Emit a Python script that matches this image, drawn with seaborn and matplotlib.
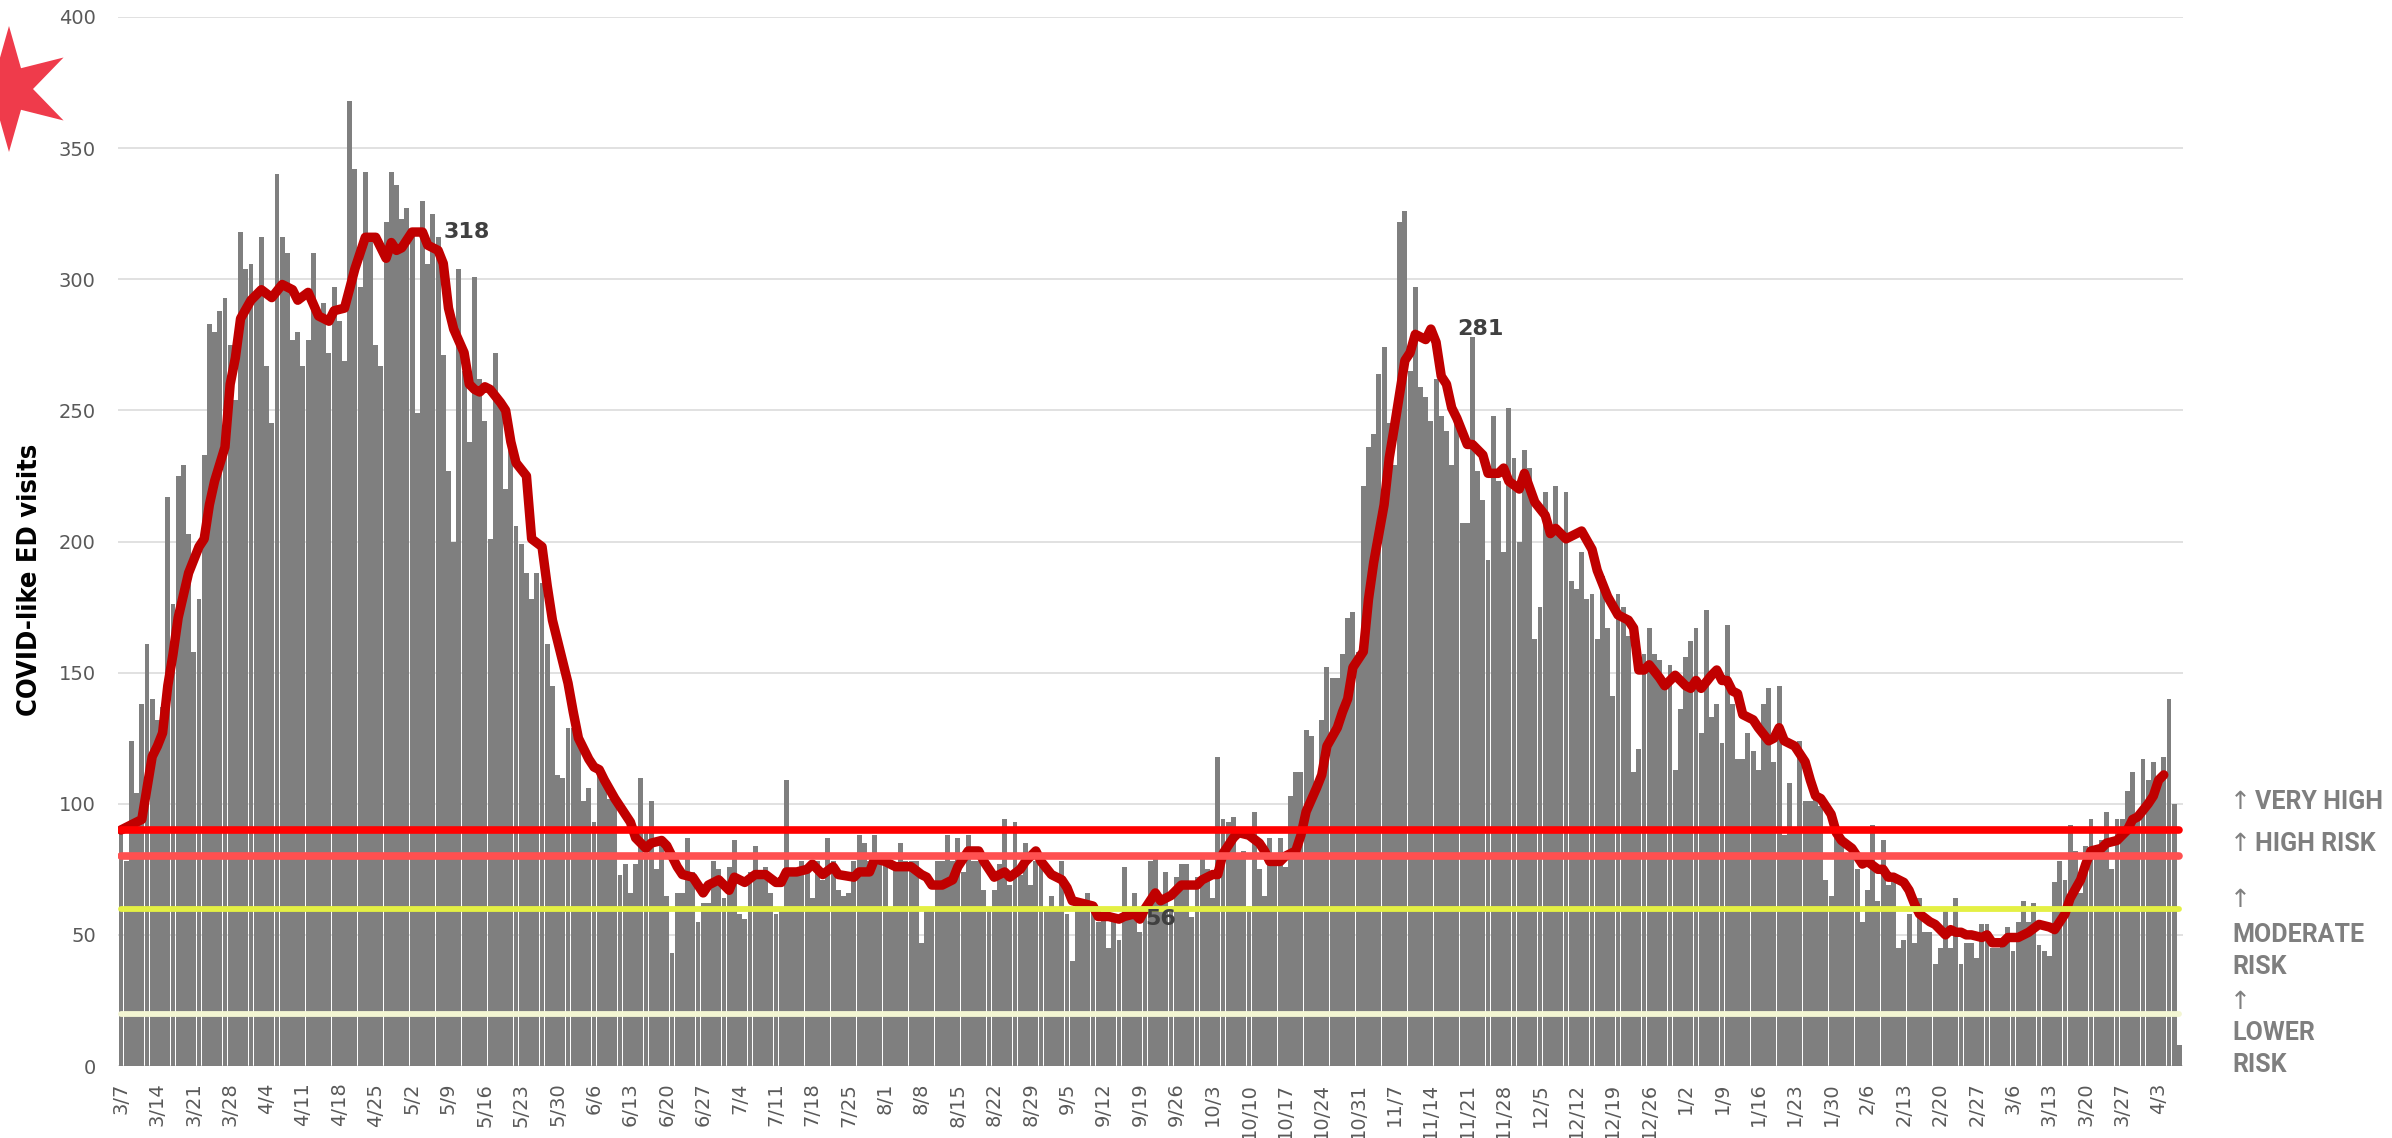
import logging

import matplotlib
matplotlib.use("Agg")
import matplotlib.pyplot as plt
from matplotlib import font_manager, transforms
from matplotlib.font_manager import FontProperties
from matplotlib.patches import Polygon
import numpy as np
import pandas as pd
import seaborn as sns

START_DATE = "2020-03-07"

# daily COVID-like ED visits, one value per day starting at START_DATE
visits = [
    89, 78, 124, 104, 138, 161, 140, 132, 137, 217, 176, 225, 229, 203, 158, 178, 233, 283, 280, 288,
    293, 275, 254, 318, 304, 306, 295, 316, 267, 245, 340, 316, 310, 277, 280, 267, 277, 310, 287, 291,
    272, 297, 284, 269, 368, 342, 297, 341, 316, 275,
    267, 322, 341, 336, 323, 327, 317, 249, 330, 306, 325, 316, 271, 227, 200, 304, 265, 238, 301, 262,
    246, 201, 272, 253, 220, 236, 206, 199, 188, 178, 188, 184, 161, 145, 111, 110, 129, 129, 128, 101,
    106, 93, 112, 111, 102, 101, 73, 77, 66, 77,
    110, 90, 101, 75, 87, 65, 43, 66, 66, 87, 74, 55, 62, 62, 78, 75, 64, 76, 86, 58,
    56, 74, 84, 74, 76, 66, 58, 59, 109, 74, 74, 78, 76, 64, 78, 71, 87, 78, 67, 65,
    66, 78, 88, 85, 78, 88, 80, 77, 60, 76,
    85, 78, 78, 78, 47, 60, 60, 78, 78, 88, 78, 87, 74, 88, 78, 78, 67, 59, 67, 77,
    94, 69, 93, 73, 85, 69, 78, 78, 60, 65, 60, 78, 58, 40, 63, 60, 66, 60, 55, 56,
    45, 55, 48, 76, 57, 66, 51, 59, 78, 81,
    64, 74, 61, 72, 77, 77, 57, 72, 81, 75, 64, 118, 94, 93, 95, 80, 82, 61, 97, 75,
    65, 87, 77, 87, 76, 103, 112, 112, 128, 126, 108, 132, 152, 148, 148, 157, 171, 173, 158, 221,
    236, 241, 264, 274, 245, 229, 322, 326, 265, 297,
    259, 255, 246, 262, 248, 242, 229, 246, 207, 207, 278, 227, 216, 193, 248, 223, 196, 251, 232, 200,
    235, 228, 163, 175, 219, 206, 221, 202, 219, 185, 182, 196, 178, 180, 163, 187, 167, 141, 180, 175,
    164, 112, 121, 157, 167, 157, 155, 145, 153, 113,
    136, 156, 162, 167, 127, 174, 133, 138, 123, 168, 138, 117, 117, 127, 120, 113, 138, 144, 116, 145,
    88, 108, 91, 124, 101, 101, 102, 99, 71, 65, 87, 87, 81, 80, 75, 55, 67, 92, 63, 86,
    69, 72, 45, 48, 58, 47, 64, 51, 51, 39,
    45, 59, 45, 64, 39, 47, 47, 41, 54, 54, 45, 45, 46, 53, 44, 55, 63, 55, 62, 46,
    44, 42, 70, 78, 71, 92, 82, 66, 84, 94, 84, 86, 97, 75, 94, 94, 105, 112, 94, 117,
    109, 116, 110, 118, 140, 100, 8,
]

# rolling average line (day offset from START_DATE, value)
avg_day = [
    0, 2, 4, 6, 7, 8, 9, 10, 11, 13, 15, 16, 17, 18, 20, 21, 22, 23, 25, 27,
    29, 31, 33, 34, 36, 38, 40, 41, 43, 45, 47, 49, 51, 52, 53, 54, 56, 58, 59, 61,
    62, 63, 64, 66, 67, 68, 69, 70, 71, 73, 74, 75, 76, 78, 79, 81, 82, 83, 85, 86,
    87, 88, 90, 91, 92, 93, 95, 96, 98, 99, 101, 102, 104, 105, 107, 108, 110, 112, 113, 115,
    117, 118, 120, 122, 124, 126, 127, 128, 130, 132, 133, 135, 137, 138, 141, 142, 144, 145, 147, 149,
    151, 152, 154, 155, 156, 158, 160, 161, 163, 165, 166, 168, 170, 171, 173, 174, 176, 177, 179, 181,
    182, 183, 185, 187, 188, 190, 192, 193, 195, 196, 197, 199, 200, 202, 204, 206, 207, 208, 210, 211,
    212, 214, 215, 217, 219, 220, 221, 223, 224, 226, 227, 228, 230, 231, 232, 234, 235, 236, 237, 239,
    240, 241, 243, 244, 245, 247, 248, 249, 251, 252, 253, 254, 255, 256, 257, 259, 260, 262, 263, 265,
    266, 267, 269, 270, 272, 274, 275, 276, 278, 279, 281, 283, 284, 286, 288, 290, 291, 292, 293, 294,
    296, 297, 299, 301, 302, 303, 304, 306, 307, 308, 309, 310, 311, 312, 314, 315, 317, 318, 319, 320,
    322, 324, 325, 326, 327, 329, 330, 331, 333, 334, 335, 336, 338, 339, 340, 341, 343, 344, 345, 346,
    348, 349, 351, 352, 353, 354, 355, 356, 358, 359, 360, 362, 363, 365, 367, 369, 371, 372, 373, 374,
    375, 377, 378, 379, 381, 382, 384, 385, 386, 387, 388, 390, 391, 392, 393,
]
avg_value = [
    90, 92, 94, 118, 122, 127, 145, 157, 171, 188, 198, 201, 214, 223, 236, 260, 270, 285, 292, 296,
    293, 298, 296, 292, 295, 286, 284, 288, 289, 304, 316, 316, 308, 314, 311, 312, 318, 318, 313, 311,
    306, 289, 281, 272, 260, 258, 257, 259, 258, 253, 250, 238, 230, 225, 201, 198, 183, 170, 154, 146,
    135, 125, 117, 114, 113, 109, 102, 99, 93, 87, 83, 85, 86, 84, 76, 73, 72, 66, 69, 71,
    67, 72, 70, 73, 73, 70, 70, 74, 74, 75, 77, 73, 76, 73, 72, 74, 74, 79, 78, 76,
    76, 76, 73, 72, 69, 69, 71, 76, 82, 82, 78, 72, 74, 72, 75, 78, 82, 78, 73, 71,
    68, 63, 62, 61, 57, 57, 56, 57, 58, 56, 60, 66, 63, 65, 69, 69, 69, 71, 73, 73,
    81, 87, 89, 88, 85, 82, 78, 78, 80, 82, 88, 97, 106, 111, 122, 129, 135, 140, 152, 158,
    178, 192, 214, 232, 244, 269, 272, 279, 277, 281, 276, 263, 260, 251, 247, 237, 237, 233, 226, 226,
    228, 223, 220, 226, 215, 210, 203, 205, 201, 202, 204, 197, 189, 179, 172, 170, 167, 151, 151, 153,
    148, 145, 149, 145, 144, 147, 144, 149, 151, 147, 147, 143, 142, 134, 132, 129, 124, 125, 129, 124,
    122, 116, 109, 103, 102, 96, 89, 86, 83, 80, 77, 78, 75, 75, 72, 72, 70, 67, 62, 58,
    55, 54, 50, 52, 51, 51, 50, 50, 49, 50, 47, 47, 49, 49, 51, 54, 53, 52, 55, 58,
    64, 71, 77, 82, 83, 85, 86, 88, 90, 94, 95, 100, 103, 109, 111,
]

# risk thresholds drawn as flat lines
risk_levels = [90, 80, 60, 20]

# labelled points of the rolling average
label_day = [57, 252, 192]
label_value = [318, 281, 56]

W, H = 2392, 1138


def ylabel_font() -> FontProperties:
    """Condensed bold face for the axis title, whatever is installed."""
    for f in font_manager.fontManager.ttflist:
        if f.name == "Liberation Sans Narrow" and f.weight in ("bold", 700):
            return FontProperties(fname=f.fname, size=23)
    for f in font_manager.fontManager.ttflist:
        if "DejaVuSansCondensed-Bold." in f.fname:
            return FontProperties(fname=f.fname, size=19.5)
    logging.info("no condensed face found, using DejaVu Sans Bold")
    return FontProperties(family="DejaVu Sans", weight="bold", size=17.5)


def draw_star(fig):
    """Chicago star in the top-left corner (pixel layout converted to figure coords)."""
    cx, cy, r_out, r_in = 9, 89, 63, 24
    pts = []
    for k in range(12):
        ang = np.deg2rad(90 - 30 * k)
        r = r_out if k % 2 == 0 else r_in
        pts.append(((cx + r * np.cos(ang)) / W, 1 - (cy - r * np.sin(ang)) / H))
    fig.patches.append(
        Polygon(pts, closed=True, transform=fig.transFigure, fc="#EF3B4B", ec="none")
    )


def main():
    logging.basicConfig(level=logging.INFO, format="%(levelname)s: %(message)s")
    sns.set_theme(style="white")
    plt.rcParams["font.family"] = ["DejaVu Sans"]

    n = len(visits)
    dates = pd.date_range(START_DATE, periods=n, freq="D")
    df = pd.DataFrame({"day": np.arange(n), "visits": visits})

    fig = plt.figure(figsize=(W / 100, H / 100), dpi=100)
    ax = fig.add_axes([118 / W, 1 - 1066 / H, 2065 / W, 1049 / H])

    # bars
    sns.barplot(
        data=df, x="day", y="visits", native_scale=True, color="#7F7F7F",
        saturation=1, width=0.94, linewidth=0, errorbar=None, ax=ax, zorder=2,
    )

    # rolling average
    sns.lineplot(
        x=avg_day, y=avg_value, color="#C00000", linewidth=6.8,
        solid_joinstyle="round", solid_capstyle="round", ax=ax, zorder=3,
    )

    # risk thresholds
    line_styles = {90: ("#FF0000", 5.5), 80: ("#FF5050", 5.5),
                   60: ("#E4F044", 4.2), 20: ("#F3F6D2", 4.2)}
    for level in risk_levels:
        color, lw = line_styles[level]
        sns.lineplot(
            x=[0, n - 1], y=[level, level], color=color, linewidth=lw,
            solid_capstyle="round", ax=ax, zorder=4,
        )

    for d, v in zip(label_day, label_value):
        ax.annotate(
            str(v), xy=(d, v), xytext=(19, 0), textcoords="offset points",
            ha="left", va="center", fontsize=16, fontweight="bold",
            color="#404040", zorder=6,
        )

    ax.set_xlim(-0.58, 396.7)
    ax.set_ylim(0, 400)
    ax.set_yticks(range(0, 401, 50))
    ax.set_xticks(range(0, n, 7))
    ax.set_xticklabels([f"{d.month}/{d.day}" for d in dates[::7]], rotation=90)
    ax.tick_params(axis="x", length=0, pad=12, labelsize=14, labelcolor="#595959")
    ax.tick_params(axis="y", length=0, pad=16, labelsize=14, labelcolor="#595959")
    ax.set_axisbelow(True)
    ax.yaxis.grid(True, color="#D9D9D9", linewidth=1.1)
    ax.xaxis.grid(False)
    for s in ax.spines.values():
        s.set_visible(False)

    ax.set_xlabel("")
    ax.set_ylabel("COVID-like ED visits", fontproperties=ylabel_font(),
                  color="black", va="center")
    ax.yaxis.set_label_coords(-0.0425, 0.463)

    # risk captions on the right, x in figure coords, y in data units
    trans = transforms.blended_transform_factory(fig.transFigure, ax.transData)
    captions = [("↑", "VERY HIGH", 100.7), ("↑", "HIGH RISK", 84.6), ("↑", "", 63.3),
                ("", "MODERATE", 50), ("", "RISK", 37.8), ("↑", "", 24.4),
                ("", "LOWER", 12.6), ("", "RISK", 0.4)]
    for arrow, word, y in captions:
        if arrow:
            ax.text(2230 / W, y, arrow, transform=trans, ha="left", va="center",
                    fontsize=18, color="#7F7F7F", family="DejaVu Sans",
                    clip_on=False)
        if word:
            x = 2255 if arrow else 2232
            ax.text(x / W, y, word, transform=trans, ha="left", va="center",
                    fontsize=18, fontweight="bold", color="#7F7F7F",
                    family=["Roboto", "DejaVu Sans"], clip_on=False)

    draw_star(fig)

    fig.savefig("out.png", dpi=100)
    plt.close(fig)
    logging.info("Saved out.png")


if __name__ == "__main__":
    main()
